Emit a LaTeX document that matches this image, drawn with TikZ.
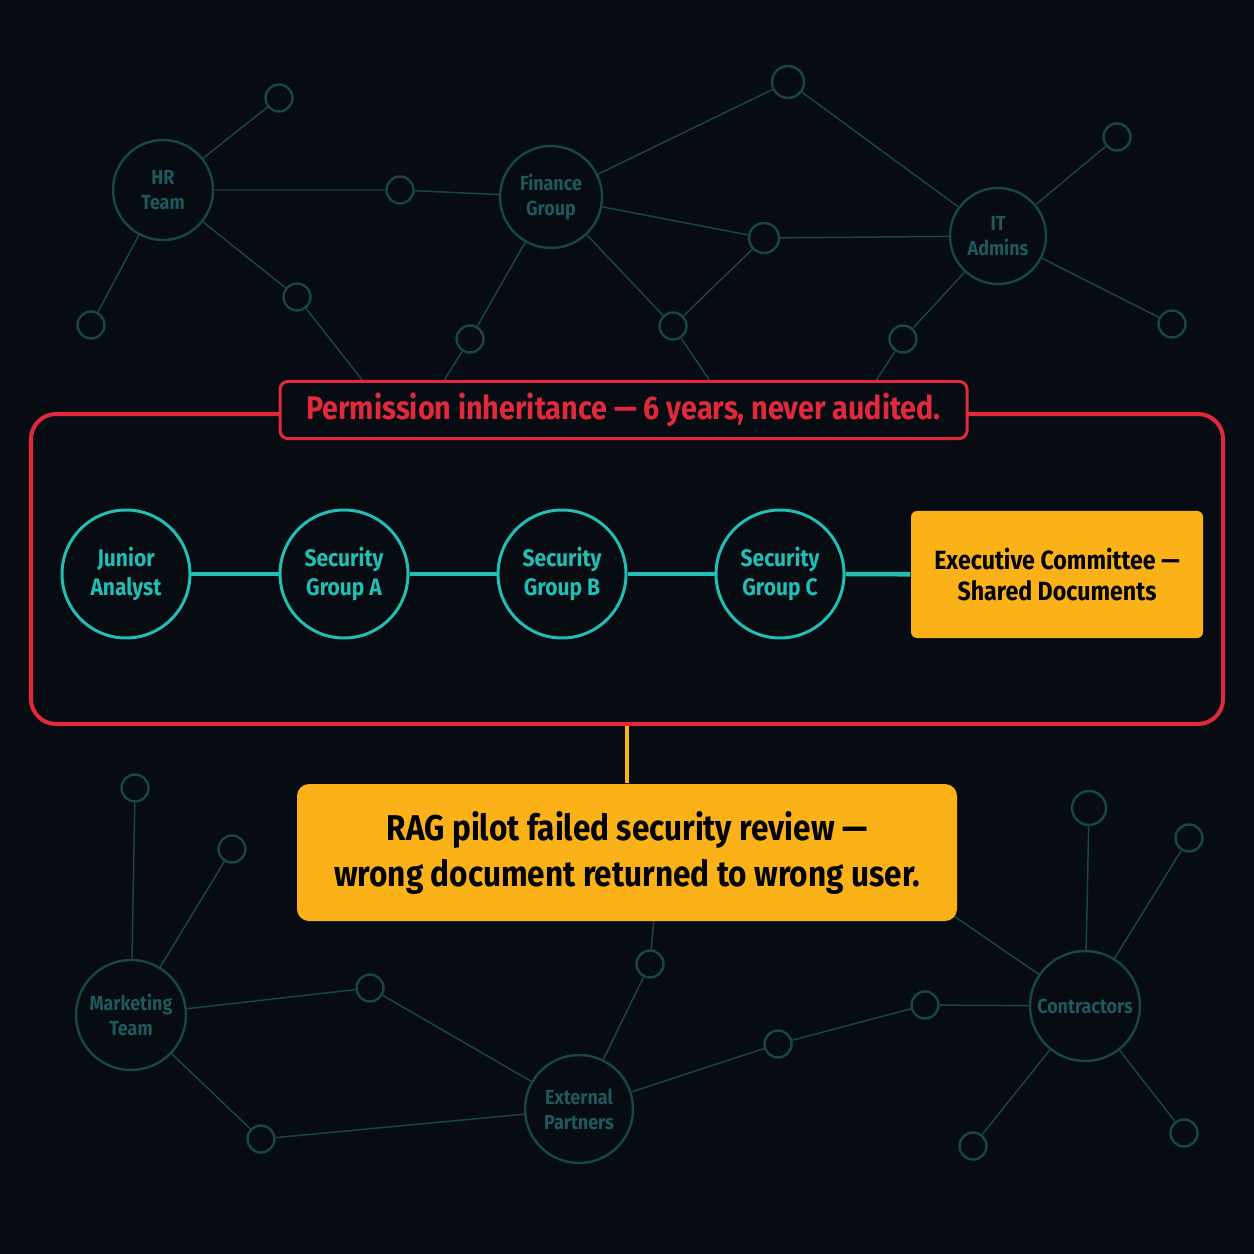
\documentclass[tikz,border=0pt]{standalone}
\usepackage{fontspec}
\setmainfont{Fira Sans}[FakeStretch=0.88]
\definecolor{bgnavy}{HTML}{070B12}
\definecolor{netteal}{HTML}{1A4447}
\definecolor{nettext}{HTML}{1F5859}
\definecolor{chainteal}{HTML}{22BDB3}
\definecolor{alertred}{HTML}{E02A3B}
\definecolor{amber}{HTML}{FBB118}
\tikzset{
  hub/.style={circle,draw=netteal,line width=0.7pt,minimum size=1.0cm,inner sep=0pt,align=center,text=nettext,font=\bfseries\fontsize{5.8}{7.1}\selectfont},
  leaf/.style={circle,draw=netteal,line width=0.7pt,minimum size=0.27cm,inner sep=0pt},
  netlink/.style={draw=netteal,line width=0.42pt},
  member/.style={circle,draw=chainteal,line width=0.85pt,minimum size=1.28cm,inner sep=0pt,align=center,text=chainteal,font=\bfseries\fontsize{6.8}{8}\selectfont},
  chainlink/.style={draw=chainteal,line width=1.3pt},
  amberbox/.style={rectangle,rounded corners=0.06cm,fill=amber,inner sep=0pt,align=center,text=black,font=\bfseries\fontsize{7.5}{8.8}\selectfont}
}
\begin{document}
\begin{tikzpicture}
\fill[bgnavy] (0,0) rectangle (12.54,-12.54);
\node[hub] (hr) at (1.63,-1.90) {HR\\Team};
\node[hub,minimum size=1.02cm] (finance) at (5.51,-1.97) {Finance\\Group};
\node[hub,minimum size=0.96cm] (itadmins) at (9.98,-2.36) {IT\\Admins};
\node[leaf] (t1) at (2.79,-0.98) {};
\node[leaf] (t2) at (4.00,-1.90) {};
\node[leaf] (t3) at (0.91,-3.25) {};
\node[leaf] (t4) at (2.97,-2.97) {};
\node[leaf] (t5) at (4.70,-3.39) {};
\node[leaf,minimum size=0.32cm] (t6) at (7.88,-0.82) {};
\node[leaf,minimum size=0.30cm] (t7) at (7.64,-2.38) {};
\node[leaf] (t8) at (6.73,-3.26) {};
\node[leaf] (t9) at (11.17,-1.37) {};
\node[leaf] (t10) at (11.72,-3.24) {};
\node[leaf] (t11) at (9.03,-3.39) {};
\coordinate (cut1) at (3.70,-3.90);
\coordinate (cut2) at (4.38,-3.90);
\coordinate (cut3) at (7.16,-3.90);
\coordinate (cut4) at (8.70,-3.90);
\draw[netlink] (hr)--(t1);
\draw[netlink] (hr)--(t2)--(finance);
\draw[netlink] (hr)--(t3);
\draw[netlink] (hr)--(t4)--(cut1);
\draw[netlink] (finance)--(t5)--(cut2);
\draw[netlink] (finance)--(t6)--(itadmins);
\draw[netlink] (finance)--(t7)--(itadmins);
\draw[netlink] (finance)--(t8)--(t7);
\draw[netlink] (t8)--(cut3);
\draw[netlink] (itadmins)--(t9);
\draw[netlink] (itadmins)--(t10);
\draw[netlink] (itadmins)--(t11)--(cut4);
\node[hub,minimum size=1.1cm] (marketing) at (1.31,-10.15) {Marketing\\Team};
\node[hub,minimum size=1.08cm] (partners) at (5.79,-11.09) {External\\Partners};
\node[hub,minimum size=1.1cm] (contractors) at (10.85,-10.06) {Contractors};
\node[leaf] (b1) at (1.35,-7.88) {};
\node[leaf] (b2) at (2.32,-8.49) {};
\node[leaf] (b3) at (3.70,-9.88) {};
\node[leaf] (b4) at (2.61,-11.39) {};
\node[leaf] (b5) at (6.50,-9.64) {};
\node[leaf] (b6) at (7.78,-10.44) {};
\node[leaf] (b7) at (9.25,-10.05) {};
\node[leaf,minimum size=0.34cm] (b8) at (10.89,-8.08) {};
\node[leaf] (b9) at (11.89,-8.38) {};
\node[leaf] (b10) at (9.73,-11.46) {};
\node[leaf] (b11) at (11.84,-11.33) {};
\coordinate (cut5) at (6.55,-9.05);
\coordinate (cut6) at (9.45,-9.10);
\draw[netlink] (marketing)--(b1);
\draw[netlink] (marketing)--(b2);
\draw[netlink] (marketing)--(b3)--(partners);
\draw[netlink] (marketing)--(b4)--(partners);
\draw[netlink] (partners)--(b5)--(cut5);
\draw[netlink] (partners)--(b6)--(b7)--(contractors);
\draw[netlink] (contractors)--(b8);
\draw[netlink] (contractors)--(b9);
\draw[netlink] (contractors)--(b10);
\draw[netlink] (contractors)--(b11);
\draw[netlink] (contractors)--(cut6);
\node[draw=alertred,line width=1.15pt,fill=bgnavy,rounded corners=0.25cm,minimum width=11.92cm,minimum height=3.10cm] (frame) at (6.27,-5.69) {};
\node[draw=alertred,line width=0.85pt,fill=bgnavy,rounded corners=0.08cm,minimum width=6.87cm,minimum height=0.56cm,text=alertred,font=\bfseries\fontsize{9.3}{10}\selectfont] (title) at (6.235,-4.10) {Permission inheritance — 6 years, never audited.};
\node[member] (junior) at (1.26,-5.74) {Junior\\Analyst};
\node[member] (groupa) at (3.44,-5.74) {Security\\Group A};
\node[member] (groupb) at (5.62,-5.74) {Security\\Group B};
\node[member] (groupc) at (7.80,-5.74) {Security\\Group C};
\node[amberbox,minimum width=2.92cm,minimum height=1.27cm] (execdocs) at (10.57,-5.745) {Executive Committee —\\Shared Documents};
\draw[chainlink] (junior)--(groupa);
\draw[chainlink] (groupa)--(groupb);
\draw[chainlink] (groupb)--(groupc);
\draw[chainlink] (groupc)--(execdocs);
\node[amberbox,rounded corners=0.12cm,minimum width=6.60cm,minimum height=1.37cm,font=\bfseries\fontsize{10.2}{13.1}\selectfont] (verdict) at (6.27,-8.525) {RAG pilot failed security review —\\wrong document returned to wrong user.};
\draw[amber,line width=1.1pt] (frame.south)--(verdict.north);
\end{tikzpicture}
\end{document}
